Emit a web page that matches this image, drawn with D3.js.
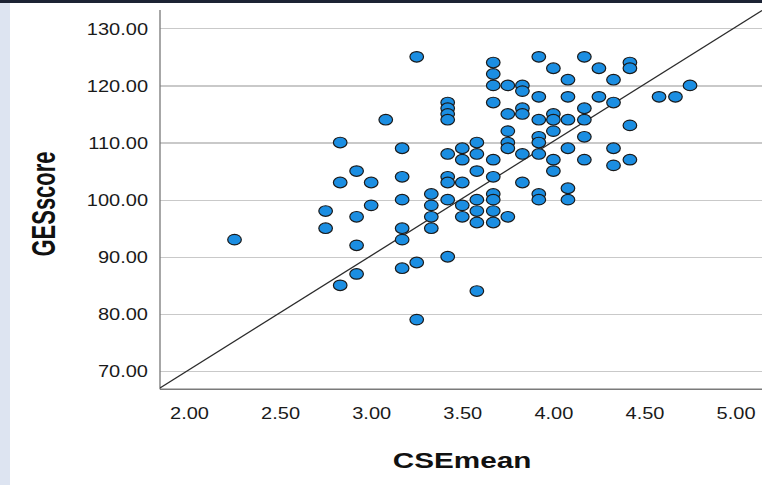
<!DOCTYPE html>
<html>
<head>
<meta charset="utf-8">
<script src="https://cdn.jsdelivr.net/npm/d3@7"></script>
<style>
  body { margin: 0; background: #fff; }
  #chart { width: 762px; height: 485px; position: relative; }
  .axis path, .axis line { shape-rendering: crispEdges; }
  .axis text { font-family: "Liberation Sans", Arial, sans-serif; fill: #1a1a1a; }
  .title { font-family: "Liberation Sans", Arial, sans-serif; font-weight: bold; fill: #111; }
</style>
</head>
<body>
<div id="chart"></div>
<script>

// CSEmean levels (x) and the GESscore values sitting on each level
var cseLevels = [2.25, 2.75, 2.83, 2.92, 3.00, 3.08, 3.17, 3.25, 3.33, 3.42, 3.50, 3.58,
                 3.67, 3.75, 3.83, 3.92, 4.00, 4.08, 4.17, 4.25, 4.33, 4.42, 4.58, 4.67, 4.75];
var gesByLevel = [
  [93],
  [98, 95],
  [110, 103, 85],
  [105, 97, 92, 87],
  [103, 99],
  [114],
  [109, 104, 100, 95, 93, 88],
  [125, 89, 79],
  [101, 99, 97, 95],
  [117, 116, 115, 114, 108, 104, 103, 100, 90],
  [109, 107, 103, 99, 97],
  [110, 108, 105, 100, 98, 96, 84],
  [124, 122, 120, 117, 107, 104, 101, 100, 98, 96],
  [120, 115, 112, 110, 109, 97],
  [120, 119, 116, 115, 108, 103],
  [125, 118, 114, 111, 110, 108, 101, 100],
  [123, 115, 114, 112, 107, 105],
  [121, 118, 114, 109, 102, 100],
  [125, 116, 114, 111, 107],
  [123, 118],
  [121, 117, 109, 106],
  [124, 123, 113, 107],
  [118],
  [118],
  [120]
];

var xTicks = [2.0, 2.5, 3.0, 3.5, 4.0, 4.5, 5.0];
var yTicks = [70, 80, 90, 100, 110, 120, 130];
var xDomain = [1.841, 5.145];
var yDomain = [66.8, 133.2];

// fit line: GESscore = a + b * CSEmean
var fitIntercept = 30.2;
var fitSlope = 20.0;


ScatterChart = function(_parentElement){
  this.parentElement = _parentElement;
  this.initVis();
}

ScatterChart.prototype.initVis = function(){
  var vis = this;

  vis.margin = { top: 10, right: 0, bottom: 95.7, left: 160 };
  vis.width = 762 - vis.margin.left - vis.margin.right;
  vis.height = 485 - vis.margin.top - vis.margin.bottom;

  vis.root = d3.select("#" + vis.parentElement).append("svg")
      .attr("width", 762)
      .attr("height", 485);

  // window frame bits
  vis.root.append("rect")
      .attr("x", 0).attr("y", 0)
      .attr("width", 10).attr("height", 485)
      .attr("fill", "#dde4f1");
  vis.root.append("rect")
      .attr("x", 0).attr("y", 0)
      .attr("width", 762).attr("height", 3)
      .attr("fill", "#1c2334");

  vis.svg = vis.root.append("g")
      .attr("transform", "translate(" + vis.margin.left + "," + vis.margin.top + ")");

  vis.svg.append("clipPath")
      .attr("id", "plot-clip")
    .append("rect")
      .attr("width", vis.width)
      .attr("height", vis.height);

  // Scales and axes
  vis.x = d3.scaleLinear()
      .domain(xDomain)
      .range([0, vis.width]);

  vis.y = d3.scaleLinear()
      .domain(yDomain)
      .range([vis.height, 0]);

  vis.xAxis = d3.axisBottom(vis.x)
      .tickValues(xTicks)
      .tickFormat(d3.format(".2f"))
      .tickSize(0);

  vis.yAxis = d3.axisLeft(vis.y)
      .tickValues(yTicks)
      .tickFormat(d3.format(".2f"))
      .tickSize(-vis.width);

  vis.svg.append("g")
      .attr("class", "y-axis axis")
      .call(vis.yAxis);
  vis.svg.select(".y-axis .domain").remove();
  vis.svg.selectAll(".y-axis .tick line")
      .attr("stroke", "#c9c9c9")
      .attr("stroke-width", 1.3);
  vis.svg.selectAll(".y-axis .tick text")
      .attr("x", -9.6)
      .attr("dy", "0.36em")
      .attr("transform", "scale(1.25,1)")
      .style("font-size", "16px");

  vis.svg.append("g")
      .attr("class", "x-axis axis")
      .attr("transform", "translate(0," + vis.height + ")")
      .call(vis.xAxis);
  vis.svg.select(".x-axis .domain").remove();
  vis.svg.selectAll(".x-axis .tick text")
      .attr("y", 24)
      .attr("dy", "0.36em")
      .attr("transform", "scale(1.25,1)")
      .style("font-size", "16px");

  // axis lines
  vis.svg.append("line")
      .attr("x1", 0).attr("x2", 0)
      .attr("y1", 0).attr("y2", vis.height)
      .attr("stroke", "#777")
      .attr("stroke-width", 1.3);
  vis.svg.append("line")
      .attr("x1", 0).attr("x2", vis.width)
      .attr("y1", vis.height).attr("y2", vis.height)
      .attr("stroke", "#7a7a7a")
      .attr("stroke-width", 1.6);

  // axis titles
  vis.root.append("text")
      .attr("class", "title")
      .attr("transform", "translate(462,460) scale(1.35,1)")
      .attr("text-anchor", "middle")
      .attr("dy", "0.36em")
      .style("font-size", "22px")
      .text("CSEmean");

  vis.root.append("text")
      .attr("class", "title")
      .attr("transform", "translate(43,204) scale(1.5,1) rotate(-90)")
      .attr("text-anchor", "middle")
      .attr("dy", "0.36em")
      .style("font-size", "22px")
      .text("GESscore");

  vis.wrangleData();
}

ScatterChart.prototype.wrangleData = function(){
  var vis = this;
  vis.displayData = [];
  cseLevels.forEach(function(lv, i) {
    gesByLevel[i].forEach(function(g) {
      vis.displayData.push({ cse: lv, ges: g });
    });
  });
  vis.updateVis();
}

ScatterChart.prototype.updateVis = function(){
  var vis = this;

  vis.svg.append("line")
      .attr("clip-path", "url(#plot-clip)")
      .attr("x1", vis.x(xDomain[0]))
      .attr("y1", vis.y(fitIntercept + fitSlope * xDomain[0]))
      .attr("x2", vis.x(xDomain[1]))
      .attr("y2", vis.y(fitIntercept + fitSlope * xDomain[1]))
      .attr("stroke", "#2b2b2b")
      .attr("stroke-width", 1.3);

  var dots = vis.svg.selectAll(".dot").data(vis.displayData);
  dots.enter()
      .append("ellipse")
      .merge(dots)
      .attr("class", "dot")
      .attr("cx", function(d) { return vis.x(d.cse); })
      .attr("cy", function(d) { return vis.y(d.ges); })
      .attr("rx", 6.8)
      .attr("ry", 5.3)
      .attr("fill", "#1b8ee2")
      .attr("stroke", "#1a1a1a")
      .attr("stroke-width", 1.2);
}

var chart = new ScatterChart("chart");

</script>
</body>
</html>
